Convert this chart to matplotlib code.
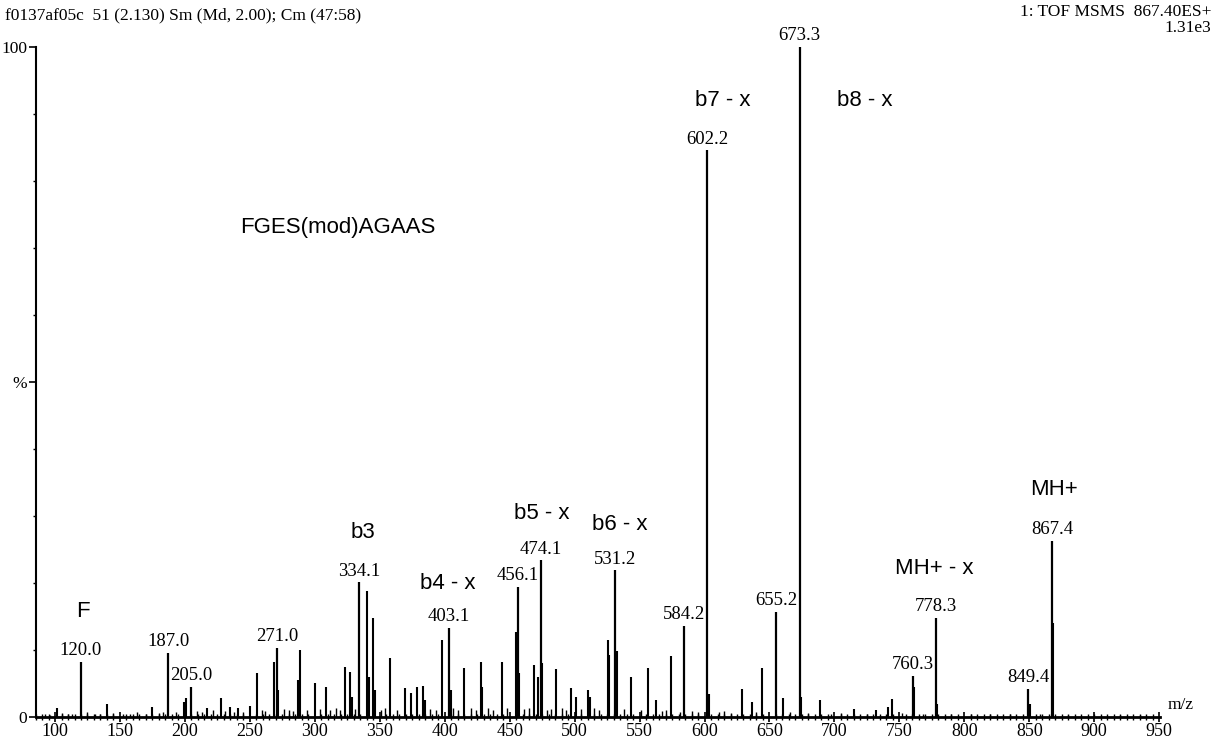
import matplotlib
matplotlib.use("Agg")
import matplotlib.pyplot as plt
from matplotlib.ticker import MultipleLocator, FixedLocator

# ---------------- data ----------------
# labelled peaks (m/z, relative intensity %)
label_mz = [120.0, 187.0, 205.0, 271.0, 334.1, 403.1, 456.1, 474.1, 531.2,
            584.2, 602.2, 655.2, 673.3, 760.3, 778.3, 849.4, 867.4]
label_int = [8.2, 9.6, 4.5, 10.3, 20.1, 13.3, 19.4, 23.4, 21.9,
             13.6, 84.6, 15.7, 100.0, 6.1, 14.8, 4.2, 26.3]

# other visible (unlabelled) peaks
other_mz = [101.5, 140.0, 175.0, 199.0, 200.5, 217.0, 228.0, 235.0, 241.0, 250.0,
            255.3, 268.5, 272.0, 287.0, 288.8, 300.0, 308.3, 323.5, 327.3, 329.0,
            340.3, 341.5, 344.9, 346.0, 357.9, 369.5, 374.2, 378.8, 383.4, 385.0,
            397.7, 405.0, 414.6, 427.7, 429.0, 444.0, 454.6, 457.0, 468.7, 471.8,
            475.0, 485.6, 497.2, 501.0, 510.0, 512.0, 525.8, 526.8, 532.8, 543.5,
            556.6, 562.7, 574.2, 603.5, 629.0, 636.7, 644.4, 660.6, 674.5, 688.7,
            714.8, 731.8, 741.0, 744.1, 761.4, 779.3, 850.4, 868.4]
other_int = [1.3, 1.9, 1.5, 2.3, 2.9, 1.4, 2.8, 1.5, 1.4, 1.7,
             6.6, 8.2, 4.0, 5.5, 10.0, 5.1, 4.5, 7.5, 6.7, 3.0,
             18.8, 6.0, 14.8, 4.0, 8.8, 4.3, 3.6, 4.5, 4.6, 2.5,
             11.5, 4.0, 7.3, 8.2, 4.5, 8.2, 12.7, 6.5, 7.8, 6.0,
             8.0, 7.2, 4.3, 3.0, 4.0, 3.0, 11.5, 9.3, 9.9, 6.0,
             7.3, 2.5, 9.1, 3.5, 4.2, 2.3, 7.3, 2.8, 3.0, 2.5,
             1.2, 1.0, 1.5, 2.7, 4.5, 2.0, 2.0, 14.0]

# baseline noise peaks
noise_mz = [92, 96, 105, 110, 113, 125, 131, 135, 145, 152, 158, 163, 170, 180,
            183, 193, 209, 213, 222, 231, 238, 245, 259, 262, 276, 280, 283, 294,
            304, 312, 316, 319, 331, 351, 354, 363, 389, 393, 406, 410, 420, 424,
            433, 437, 448, 461, 465, 479, 482, 490, 493, 505, 515, 519, 538, 551,
            567, 570, 581, 590, 595, 611, 615, 620, 640, 666, 680, 697, 705, 725,
            752, 768, 790, 805, 820, 835, 858, 880, 900, 920, 935]
noise_int = [0.4, 0.3, 0.6, 0.5, 0.4, 0.7, 0.5, 0.4, 0.6, 0.5, 0.4, 0.7, 0.5, 0.6,
             0.8, 0.7, 0.9, 0.8, 1.0, 0.9, 0.8, 0.7, 1.1, 0.9, 1.2, 1.0, 0.9, 1.1,
             1.2, 1.0, 1.3, 1.1, 1.2, 1.0, 1.4, 1.1, 1.2, 1.0, 1.3, 1.1, 1.4, 1.0,
             1.3, 1.1, 1.4, 1.2, 1.3, 1.0, 1.2, 1.4, 1.1, 1.2, 1.3, 1.0, 1.2, 1.1,
             0.9, 1.0, 0.8, 0.9, 0.7, 0.8, 0.9, 0.6, 0.8, 0.7, 0.6, 0.5, 0.6, 0.5,
             0.6, 0.5, 0.4, 0.5, 0.4, 0.5, 0.4, 0.3, 0.4, 0.3, 0.3]

# ion annotations: text, m/z centre, intensity position
ion_text = ["F", "b3", "b4 - x", "b5 - x", "b6 - x", "b7 - x", "b8 - x",
            "MH+ - x", "MH+", "FGES(mod)AGAAS"]
ion_mz = [121.5, 337.0, 402.0, 474.6, 534.6, 614.0, 723.0, 777.0, 869.0, 318.0]
ion_y = [15.7, 27.6, 19.9, 30.4, 28.7, 92.0, 92.0, 22.2, 33.9, 73.0]

xmin, xmax = 85, 951
xticks_major = list(range(100, 951, 50))

# ---------------- figure ----------------
SERIF = "Liberation Serif"
SANS = "Liberation Sans"

fig = plt.figure(figsize=(12.14, 7.44), dpi=100)
left_px = 81 - (120 - xmin) * 1.299
right_px = 81 + (xmax - 120) * 1.299
ax = fig.add_axes([left_px / 1214, 27 / 744, (right_px - left_px) / 1214, 670 / 744])

ax.vlines(noise_mz, 0, noise_int, color="black", lw=1.0)
ax.vlines(other_mz, 0, other_int, color="black", lw=1.5)
ax.vlines(label_mz, 0, label_int, color="black", lw=1.6)

for mz, h in zip(label_mz, label_int):
    ax.text(mz, h + 0.4, f"{mz:.1f}", ha="center", va="bottom",
            family=SERIF, fontsize=13.5, color="black")

for t, mz, y in zip(ion_text, ion_mz, ion_y):
    ax.text(mz, y, t, ha="center", va="center", family=SANS, fontsize=16,
            color="black")

ax.set_xlim(xmin, xmax)
ax.set_ylim(0, 100)
ax.spines["top"].set_visible(False)
ax.spines["right"].set_visible(False)
ax.spines["left"].set_linewidth(1.5)
ax.spines["bottom"].set_linewidth(2.0)

ax.xaxis.set_major_locator(FixedLocator(xticks_major))
ax.xaxis.set_minor_locator(MultipleLocator(5))
ax.set_xticklabels([str(v) for v in xticks_major], family=SERIF, fontsize=13)
ax.tick_params(axis="x", which="major", direction="inout", length=7, width=1.2, pad=1)
ax.tick_params(axis="x", which="minor", direction="inout", length=4, width=1.0)

ax.yaxis.set_major_locator(FixedLocator([0, 50, 100]))
ax.yaxis.set_minor_locator(MultipleLocator(10))
ax.set_yticklabels(["0", "%", "100"], family=SERIF, fontsize=12.5)
ax.tick_params(axis="y", which="major", direction="out", length=5, width=1.2, pad=1)
ax.tick_params(axis="y", which="minor", direction="out", length=2, width=1.0)

ax.text(1.006, 0.006, "m/z", transform=ax.transAxes, ha="left", va="bottom",
        family=SERIF, fontsize=12.5)

fig.text(5 / 1214, 1 - 15 / 744, "f0137af05c  51 (2.130) Sm (Md, 2.00); Cm (47:58)",
         ha="left", va="center", family=SERIF, fontsize=12.5)
fig.text(1211 / 1214, 1 - 12 / 744, "1: TOF MSMS  867.40ES+",
         ha="right", va="center", family=SERIF, fontsize=12.5)
fig.text(1211 / 1214, 1 - 28 / 744, "1.31e3",
         ha="right", va="center", family=SERIF, fontsize=12.5)

fig.savefig("out.png", dpi=100, facecolor="white")
